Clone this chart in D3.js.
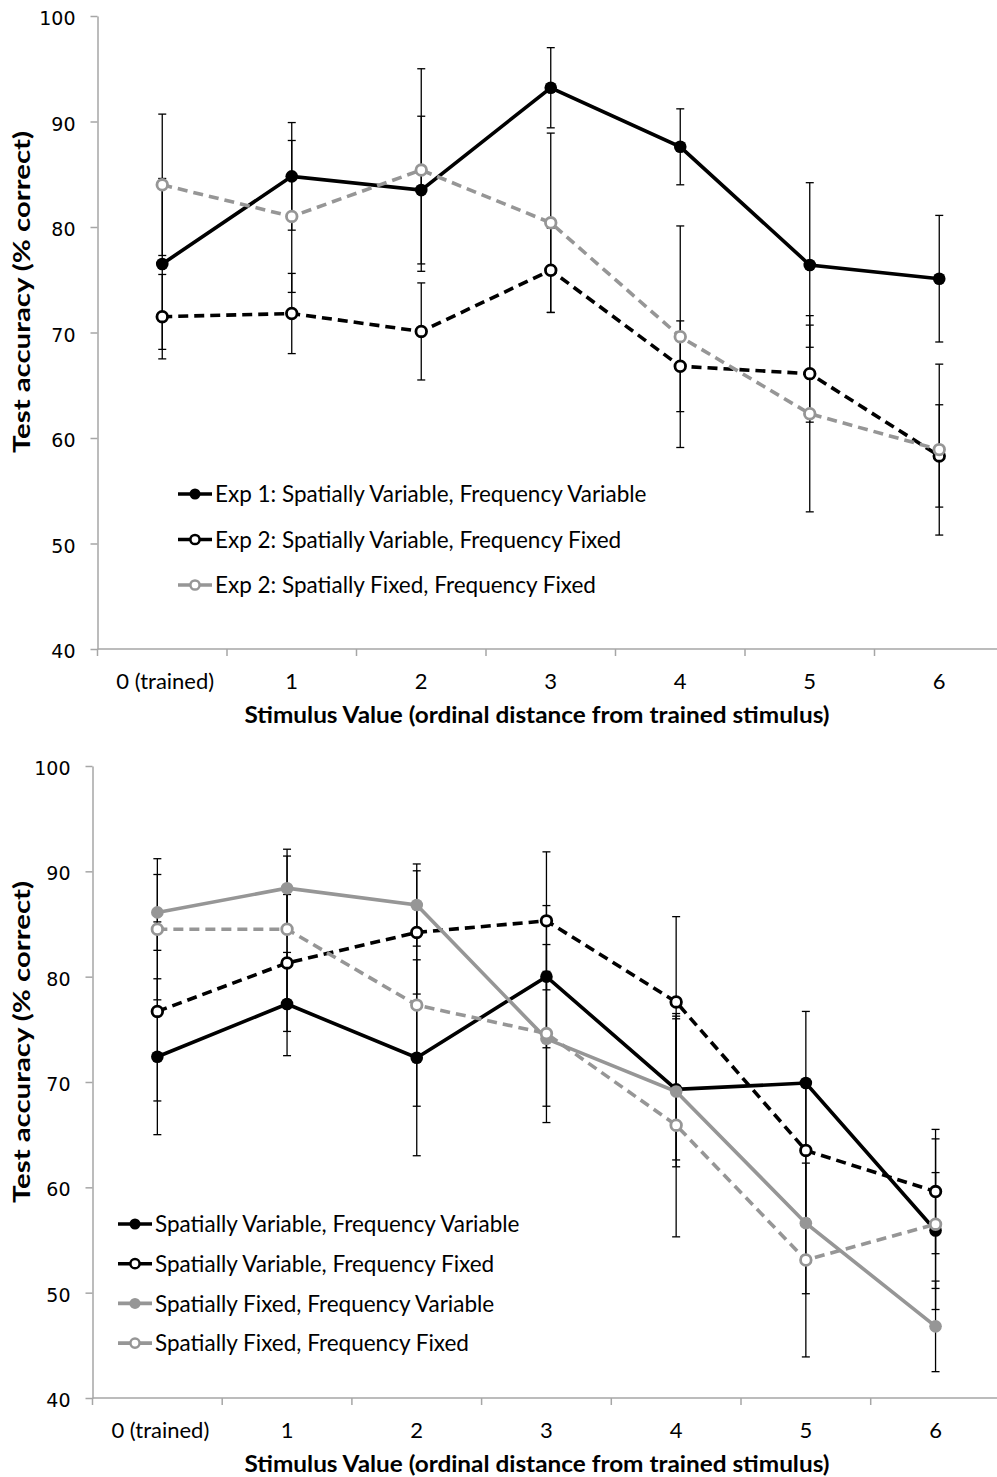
<!DOCTYPE html>
<html>
<head>
	<meta charset="utf-8">
	<script src="https://cdnjs.cloudflare.com/ajax/libs/d3/7.8.5/d3.min.js"></script>
	<style>
		body { margin: 0; background: #fff; }
		svg { display: block; }
		.y-axis text { font-family: "DejaVu Sans", sans-serif; font-size: 19px; fill: #000; }
		.y-axis path, .y-axis line, .x-axis path, .x-axis line { stroke: #a6a6a6; stroke-width: 1.5; }
		.x-label { font-family: Lato, sans-serif; font-size: 22px; fill: #000; }
		.title { font-family: Lato, sans-serif; font-size: 23px; font-weight: 700; fill: #000; }
		.legend text { font-family: Lato, sans-serif; font-size: 22.5px; fill: #000; }
	</style>
</head>
<body>
	<svg width="997" height="1477"></svg>
	<script>
	// categories and ticks
	var categories = ["0 (trained)", "1", "2", "3", "4", "5", "6"];
	var yTicks = [40, 50, 60, 70, 80, 90, 100];

	// top panel (Exp 1 / Exp 2)
	var exp1SVFV = [76.5, 84.8, 83.5, 93.2, 87.6, 76.4, 75.1];
	var exp1SVFVErr = [8.1, 5.1, 7.0, 3.8, 3.6, 7.8, 6.0];
	var exp2SVFF = [71.5, 71.8, 70.1, 75.9, 66.8, 66.1, 58.3];
	var exp2SVFFErr = [4.0, 3.8, 4.6, 4.0, 4.3, 4.6, 4.85];
	var exp2SFFF = [84.0, 81.0, 85.4, 80.4, 69.6, 62.3, 58.9];
	var exp2SFFFErr = [6.7, 7.2, 9.6, 8.5, 10.5, 9.3, 8.1];

	// bottom panel
	var svfv = [72.4, 77.4, 72.3, 80.0, 69.3, 69.9, 55.9];
	var svfvErr = [7.4, 4.9, 9.3, 6.75, 6.7, 6.8, 5.5];
	var svff = [76.7, 81.3, 84.2, 85.3, 77.6, 63.5, 59.6];
	var svffErr = [8.5, 6.5, 5.85, 6.55, 8.1, 6.5, 5.9];
	var sffv = [86.1, 88.4, 86.8, 74.1, 69.1, 56.6, 46.8];
	var sffvErr = [3.6, 3.7, 3.9, 6.4, 7.15, 6.7, 4.3];
	var sfff = [84.5, 84.5, 77.3, 74.6, 65.9, 53.1, 56.5];
	var sfffErr = [6.7, 6.95, 9.6, 8.45, 10.6, 9.2, 8.1];

	var GRAY = "#969696";

	var topSeries = [
		{name: "Exp 1: Spatially Variable, Frequency Variable", values: exp1SVFV, err: exp1SVFVErr, color: "#000", dashed: false, filled: true},
		{name: "Exp 2: Spatially Variable, Frequency Fixed", values: exp2SVFF, err: exp2SVFFErr, color: "#000", dashed: true, filled: false},
		{name: "Exp 2: Spatially Fixed, Frequency Fixed", values: exp2SFFF, err: exp2SFFFErr, color: GRAY, dashed: true, filled: false}
	];
	var bottomSeries = [
		{name: "Spatially Variable, Frequency Variable", values: svfv, err: svfvErr, color: "#000", dashed: false, filled: true},
		{name: "Spatially Variable, Frequency Fixed", values: svff, err: svffErr, color: "#000", dashed: true, filled: false},
		{name: "Spatially Fixed, Frequency Variable", values: sffv, err: sffvErr, color: GRAY, dashed: false, filled: true},
		{name: "Spatially Fixed, Frequency Fixed", values: sfff, err: sfffErr, color: GRAY, dashed: true, filled: false}
	];

	var svg = d3.select("svg");

	function drawPanel(opt, series) {
		var g = svg.append("g");

		var x = d3.scaleBand().domain(categories).range([opt.left, opt.left + 7 * opt.step]).padding(0);
		var y = d3.scaleLinear().domain([40, 100]).range([opt.bottom, opt.top]);
		var cx = function(i) { return x(categories[i]) + x.bandwidth() / 2; };

		// y axis
		g.append("g")
			.attr("class", "y-axis")
			.attr("transform", "translate(" + opt.left + ",0)")
			.call(d3.axisLeft(y).tickValues(yTicks).tickSize(7).tickSizeOuter(0).tickPadding(15))
			.selectAll("text").attr("dy", "0.45em");

		// x axis: line + ticks at band edges
		var xa = g.append("g").attr("class", "x-axis");
		xa.append("line")
			.attr("x1", opt.left).attr("x2", x.range()[1])
			.attr("y1", opt.bottom).attr("y2", opt.bottom);
		xa.selectAll(".tk")
			.data(categories.concat(["end"]))
			.enter().append("line")
			.attr("x1", function(d, i) { return opt.left + i * x.step(); })
			.attr("x2", function(d, i) { return opt.left + i * x.step(); })
			.attr("y1", opt.bottom).attr("y2", opt.bottom + 7);
		g.selectAll(".x-label")
			.data(categories)
			.enter().append("text")
			.attr("class", "x-label")
			.attr("x", function(d, i) { return cx(i) + (i == 0 ? 3 : 0); })
			.attr("y", opt.bottom + 40)
			.attr("text-anchor", "middle")
			.text(function(d) { return d; });

		// titles
		g.append("text")
			.attr("class", "title")
			.attr("x", 537)
			.attr("y", opt.bottom + 74)
			.attr("text-anchor", "middle")
			.attr("textLength", 585)
			.attr("lengthAdjust", "spacingAndGlyphs")
			.text("Stimulus Value (ordinal distance from trained stimulus)");
		g.append("text")
			.attr("class", "title")
			.attr("transform", "translate(30," + (opt.top + 276) + ") rotate(-90)")
			.attr("text-anchor", "middle")
			.attr("textLength", 322)
			.attr("lengthAdjust", "spacingAndGlyphs")
			.text("Test accuracy (% correct)");

		// error bars first
		series.forEach(function(s) {
			var eb = g.append("g");
			s.values.forEach(function(v, i) {
				var e = s.err[i];
				eb.append("line")
					.attr("x1", cx(i)).attr("x2", cx(i))
					.attr("y1", y(v - e)).attr("y2", y(v + e))
					.attr("stroke", "#000").attr("stroke-width", 1.3);
				[v - e, v + e].forEach(function(c) {
					eb.append("line")
						.attr("x1", cx(i) - 4).attr("x2", cx(i) + 4)
						.attr("y1", y(c)).attr("y2", y(c))
						.attr("stroke", "#000").attr("stroke-width", 1.3);
				});
			});
		});

		// lines and markers
		var line = d3.line()
			.x(function(d, i) { return cx(i); })
			.y(function(d) { return y(d); });

		series.forEach(function(s) {
			g.append("path")
				.datum(s.values)
				.attr("d", line)
				.attr("fill", "none")
				.attr("stroke", s.color)
				.attr("stroke-width", 3.6)
				.attr("stroke-dasharray", s.dashed ? "10,6" : null);
			g.selectAll(null)
				.data(s.values)
				.enter().append("circle")
				.attr("cx", function(d, i) { return cx(i); })
				.attr("cy", function(d) { return y(d); })
				.attr("r", s.filled ? 6.3 : 5.3)
				.attr("fill", s.filled ? s.color : "#fff")
				.attr("stroke", s.color)
				.attr("stroke-width", s.filled ? 0 : 2.8);
		});

		// legend
		var lg = g.append("g").attr("class", "legend");
		series.forEach(function(s, i) {
			var ly = opt.legY + i * opt.legStep;
			lg.append("line")
				.attr("x1", opt.legX).attr("x2", opt.legX + 34)
				.attr("y1", ly).attr("y2", ly)
				.attr("stroke", s.color).attr("stroke-width", 3.6);
			lg.append("circle")
				.attr("cx", opt.legX + 17).attr("cy", ly)
				.attr("r", s.filled ? 5.5 : 4.6)
				.attr("fill", s.filled ? s.color : "#fff")
				.attr("stroke", s.color)
				.attr("stroke-width", s.filled ? 0 : 2.5);
			lg.append("text")
				.attr("x", opt.legX + 37)
				.attr("y", ly)
				.attr("dy", "0.36em")
				.text(s.name);
		});
	}

	drawPanel({left: 97.5, step: 129.5, top: 16, bottom: 649, legX: 178, legY: 494, legStep: 45.5}, topSeries);
	drawPanel({left: 92.5, step: 129.7, top: 766, bottom: 1398, legX: 118, legY: 1224, legStep: 39.7}, bottomSeries);
	</script>
</body>
</html>
